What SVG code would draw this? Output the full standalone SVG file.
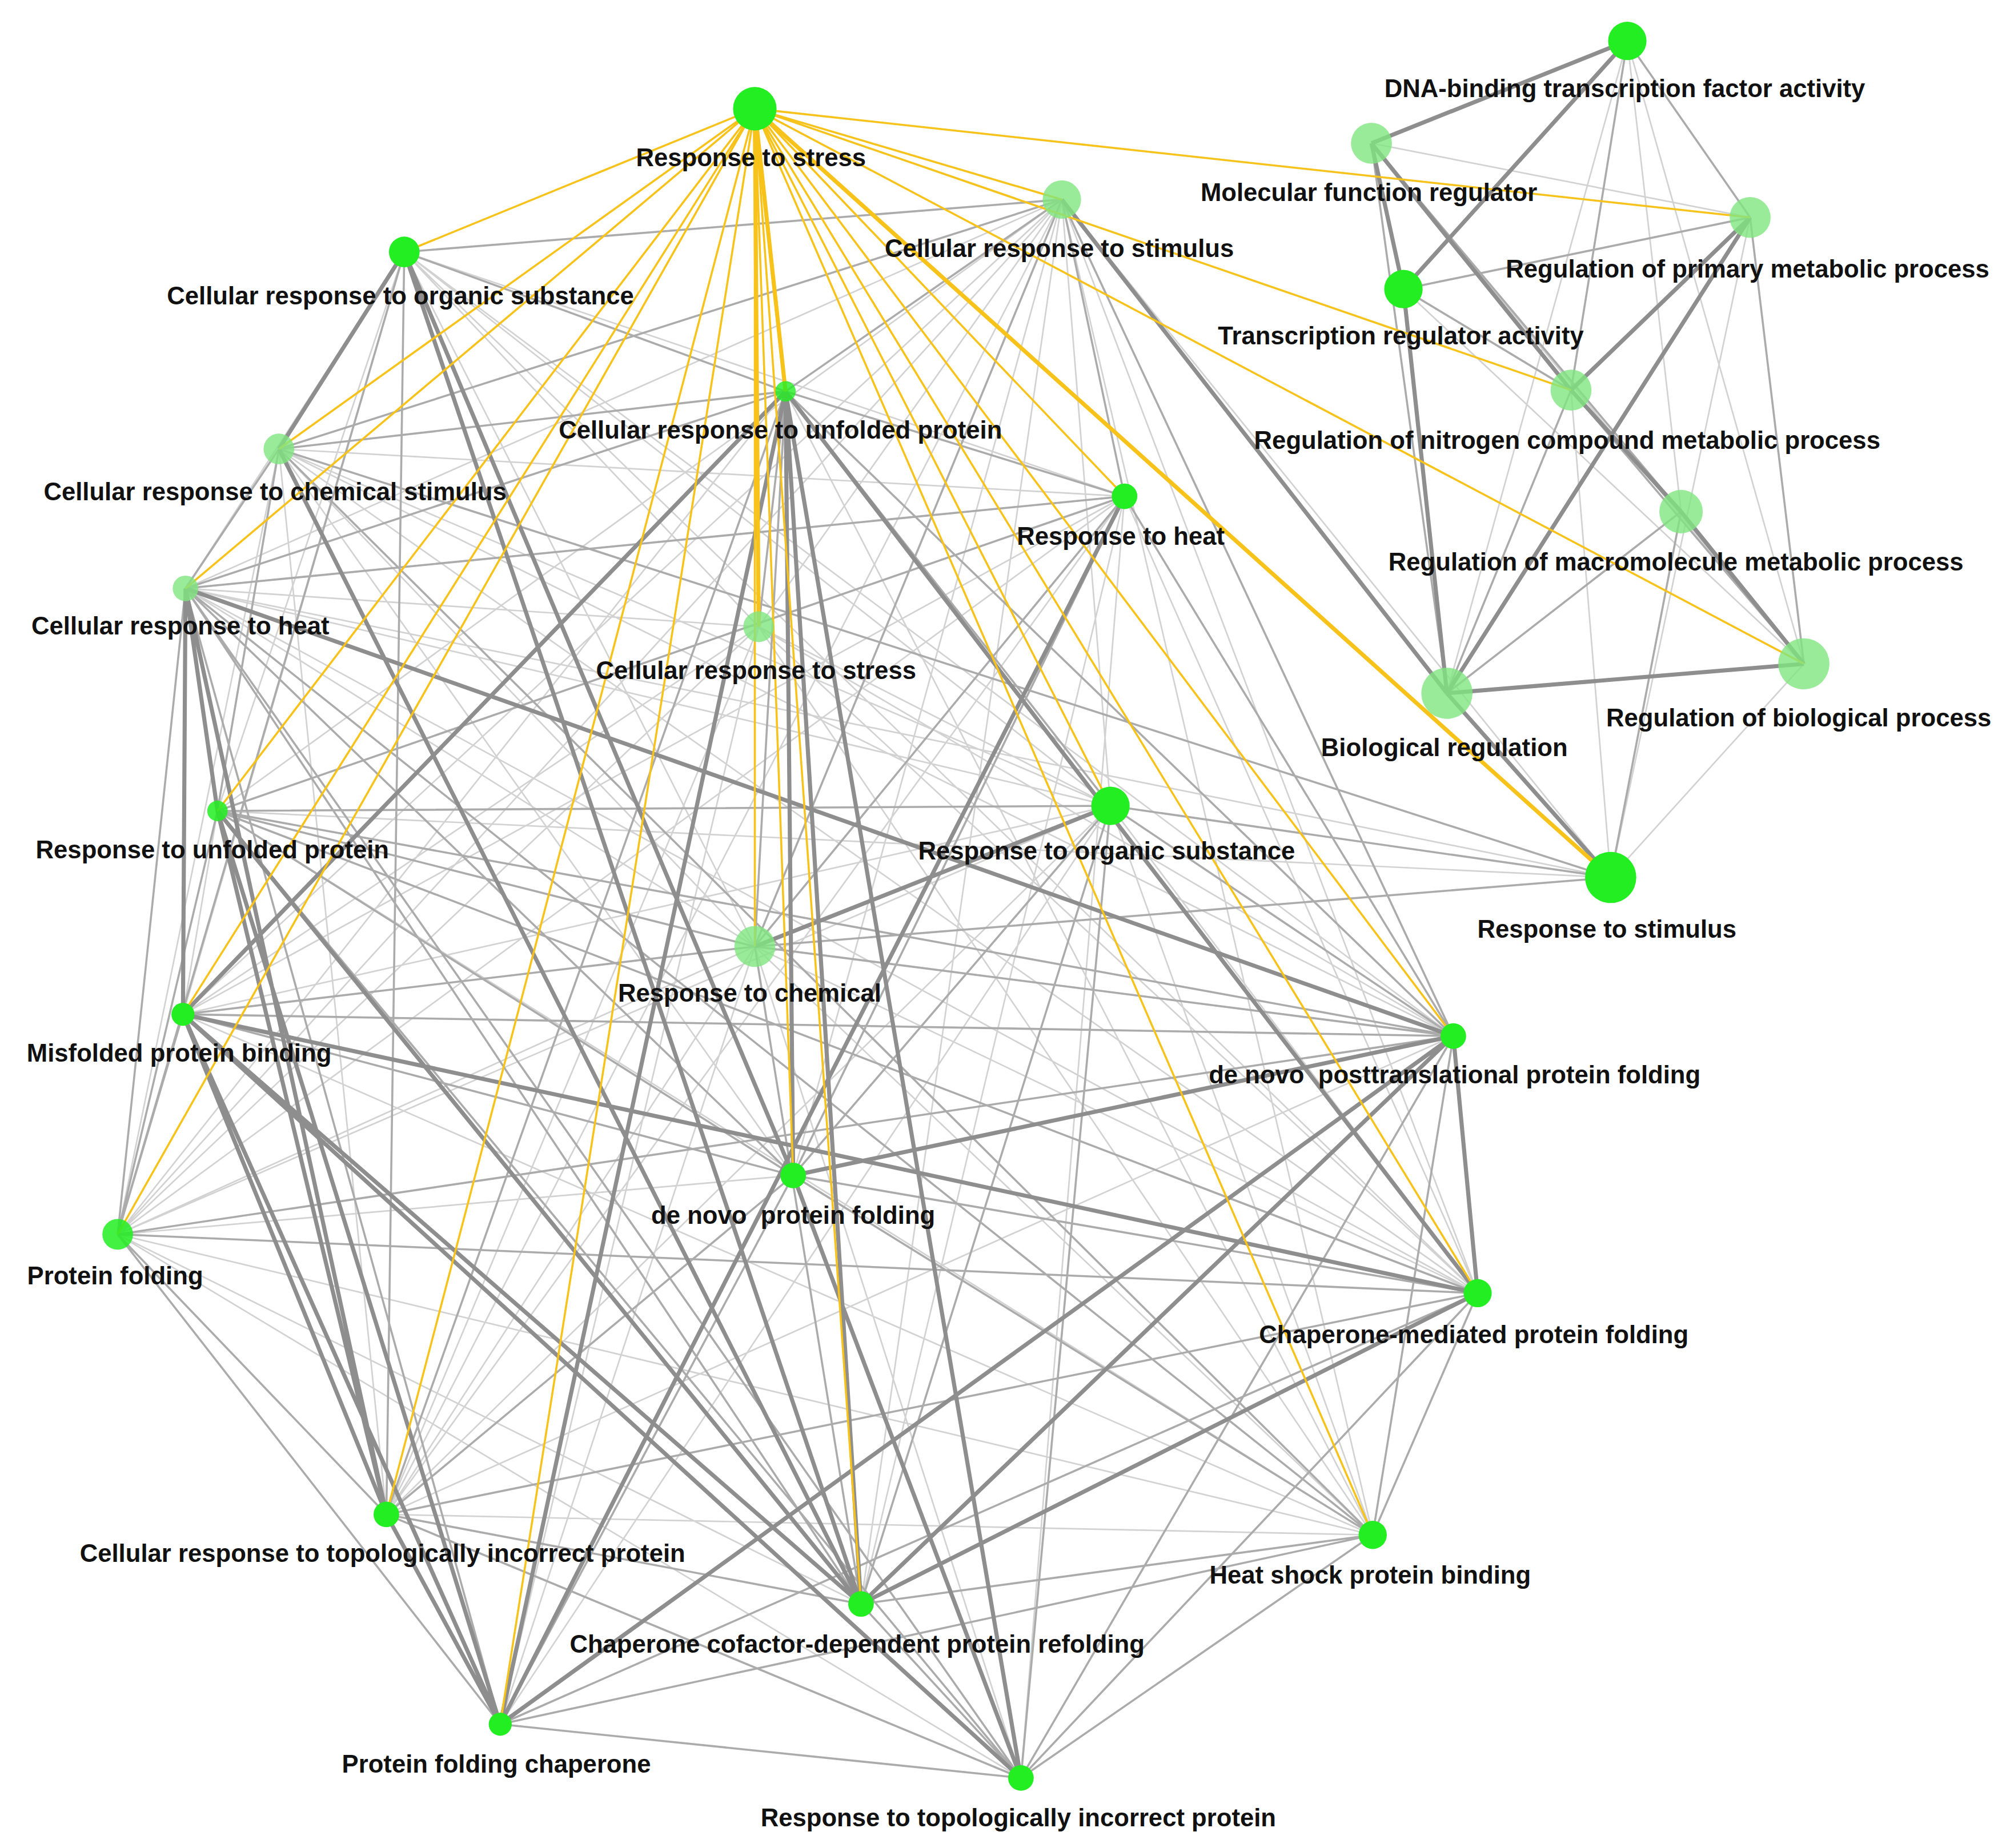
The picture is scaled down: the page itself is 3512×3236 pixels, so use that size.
<svg xmlns="http://www.w3.org/2000/svg" width="3512" height="3236" viewBox="0 0 3512 3236">
<style>
.t{stroke:#d2d2d2;stroke-width:1.2}
.m{stroke:#ababab;stroke-width:1.6}
.k{stroke:#8e8e8e;stroke-width:3.2}
.y{stroke:#f7c21a;stroke-width:1.6}
.Y{stroke:#f7c21a;stroke-width:3.2}
.n{fill:#22ee22}
.l{fill:#7fe67f;opacity:.8}
text{font-family:"Liberation Sans",Arial,sans-serif;font-size:19.5px;font-weight:bold;fill:#111;text-anchor:middle}
</style>
<rect width="3512" height="3236" fill="#fff"/>
<g transform="scale(2.2398)">
<g id="connectors" fill="none">
<!-- light background mesh -->
<path class="t" d="M830,156L143,793M830,156L92,965M830,156L302,1184M830,156L620,919M830,156L1155,1011M830,156L1073,1200M830,156L868,630M830,156L170,634M830,156L1259,686M830,156L1136,810M830,156L593,490M830,156L145,460M830,156L673,1254M316,197L1136,810M316,197L868,630M316,197L879,388M316,197L1155,1011M316,197L170,634M316,197L143,793M316,197L593,490M316,197L590,740M316,197L145,460M218,351L1136,810M218,351L868,630M218,351L620,919M218,351L1155,1011M218,351L302,1184M218,351L673,1254M218,351L879,388M218,351L590,740M218,351L143,793M218,351L92,965M145,460L868,630M145,460L879,388M145,460L1136,810M145,460L1155,1011M145,460L590,740M145,460L1259,686M145,460L593,490M593,490L1136,810M593,490L92,965M593,490L1155,1011M593,490L302,1184M593,490L143,793M593,490L1073,1200M593,490L868,630M593,490L391,1348M879,388L92,965M879,388L302,1184M879,388L143,793M879,388L170,634M879,388L391,1348M879,388L673,1254M879,388L798,1390M879,388L1155,1011M868,630L92,965M868,630L302,1184M868,630L391,1348M868,630L143,793M868,630L1073,1200M868,630L1155,1011M590,740L1073,1200M590,740L92,965M590,740L1136,810M590,740L302,1184M590,740L798,1390M590,740L391,1348M590,740L1155,1011M92,965L1073,1200M92,965L673,1254M92,965L798,1390M92,965L620,919M302,1184L1073,1200M302,1184L1136,810M170,634L1073,1200M170,634L1259,686M143,793L1073,1200M614,306L1073,1200M614,306L92,965M614,306L1155,1011M1259,686L1314,400M1259,686L1410,519M1259,686L1228,305M1131,542L1272,32M1131,542L1410,519M1097,226L1410,519M1072,112L1410,519M1272,32L1410,519M1272,32L1314,400M1368,170L1259,686M1072,112L1368,170"/>
<!-- medium -->
<path class="m" d="M830,156L316,197M830,156L614,306M830,156L218,351M830,156L879,388M830,156L590,740M830,156L1136,810M316,197L614,306M316,197L620,919M316,197L302,1184M316,197L92,965M218,351L614,306M218,351L1259,686M218,351L170,634M218,351L145,460M218,351L1073,1200M145,460L614,306M145,460L620,919M145,460L673,1254M145,460L798,1390M145,460L391,1348M145,460L92,965M145,460L1073,1200M614,306L879,388M614,306L868,630M614,306L590,740M614,306L1136,810M614,306L593,490M614,306L302,1184M879,388L620,919M879,388L1136,810M879,388L590,740M879,388L170,634M879,388L145,460M868,630L170,634M868,630L620,919M868,630L1136,810M868,630L798,1390M868,630L673,1254M868,630L1259,686M590,740L143,793M590,740L170,634M590,740L673,1254M590,740L1136,810M170,634L1136,810M170,634L620,919M170,634L1155,1011M170,634L92,965M170,634L798,1390M143,793L1136,810M143,793L620,919M143,793L1155,1011M143,793L798,1390M143,793L92,965M92,965L1136,810M92,965L1155,1011M92,965L302,1184M92,965L391,1348M620,919L1073,1200M620,919L1155,1011M620,919L302,1184M620,919L391,1348M1136,810L1073,1200M1136,810L798,1390M1136,810L673,1254M1155,1011L1073,1200M1155,1011L302,1184M1155,1011L798,1390M1155,1011L391,1348M1073,1200L673,1254M1073,1200L798,1390M1073,1200L391,1348M302,1184L798,1390M302,1184L673,1254M673,1254L798,1390M391,1348L798,1390M1272,32L1368,170M1272,32L1228,305M1072,112L1131,542M1072,112L1314,400M1097,226L1131,542M1097,226L1368,170M1368,170L1410,519M1368,170L1131,542M1228,305L1131,542M1228,305L1410,519M1314,400L1131,542M1314,400L1259,686M1131,542L1259,686M1097,226L1228,305M590,740L1259,686"/>
<!-- thick -->
<path class="k" d="M316,197L218,351M316,197L620,919M316,197L673,1254M614,306L391,1348M614,306L673,1254M614,306L798,1390M614,306L620,919M614,306L143,793M614,306L1155,1011M145,460L143,793M145,460L302,1184M145,460L170,634M170,634L302,1184M170,634L391,1348M170,634L673,1254M143,793L673,1254M143,793L302,1184M143,793L391,1348M302,1184L391,1348M868,630L590,740M1136,810L620,919M1136,810L673,1254M1136,810L391,1348M1136,810L1155,1011M1155,1011L673,1254M620,919L798,1390M218,351L673,1254M145,460L1136,810M879,388L391,1348M143,793L1155,1011M143,793L798,1390M1272,32L1072,112M1272,32L1097,226M1072,112L1097,226M1072,112L1228,305M1368,170L1228,305M1368,170L1131,542M1228,305L1314,400M1314,400L1410,519M1131,542L1410,519M1131,542L1259,686M830,156L1131,542M1097,226L1131,542"/>
<!-- yellow from Response to stress -->
<path class="y" d="M590,85L830,156M590,85L316,197M590,85L614,306M590,85L218,351M590,85L879,388M590,85L145,460M590,85L593,490M590,85L170,634M590,85L868,630M590,85L590,740M590,85L143,793M590,85L1136,810M590,85L620,919M590,85L92,965M590,85L1155,1011M590,85L1073,1200M590,85L302,1184M590,85L673,1254M590,85L391,1348M590,85L1368,170M590,85L1228,305M590,85L1410,519"/>
<path class="Y" d="M590,85L1259,686M590,85L614,306M590,85L593,490"/>
</g>
<g id="nodes">
<g id="n-stress"><circle class="n" cx="590" cy="85" r="17"/><text x="587" y="130">Response to stress</text></g>
<g id="n-dna"><circle class="n" cx="1272" cy="32" r="15"/><text x="1270" y="76">DNA-binding transcription factor activity</text></g>
<g id="n-mfr"><circle class="l" cx="1072" cy="112" r="16"/><text x="1070" y="157">Molecular function regulator</text></g>
<g id="n-cstim"><circle class="l" cx="830" cy="156" r="15"/><text x="828" y="201">Cellular response to stimulus</text></g>
<g id="n-rprim"><circle class="l" cx="1368" cy="170" r="16"/><text x="1366" y="217">Regulation of primary metabolic process</text></g>
<g id="n-corg"><circle class="n" cx="316" cy="197" r="12"/><text x="313" y="238">Cellular response to organic substance</text></g>
<g id="n-tra"><circle class="n" cx="1097" cy="226" r="15"/><text x="1095" y="269">Transcription regulator activity</text></g>
<g id="n-rnit"><circle class="l" cx="1228" cy="305" r="16"/><text x="1225" y="351">Regulation of nitrogen compound metabolic process</text></g>
<g id="n-cunf"><circle class="n" cx="614" cy="306" r="8" opacity=".8"/><text x="610" y="343">Cellular response to unfolded protein</text></g>
<g id="n-cchem"><circle class="l" cx="218" cy="351" r="12"/><text x="215" y="391">Cellular response to chemical stimulus</text></g>
<g id="n-heat"><circle class="n" cx="879" cy="388" r="10"/><text x="876" y="426">Response to heat</text></g>
<g id="n-rmac"><circle class="l" cx="1314" cy="400" r="17"/><text x="1310" y="446">Regulation of macromolecule metabolic process</text></g>
<g id="n-cheat"><circle class="l" cx="145" cy="460" r="10"/><text x="141" y="496">Cellular response to heat</text></g>
<g id="n-cstress"><circle class="l" cx="593" cy="490" r="12"/><text x="591" y="531">Cellular response to stress</text></g>
<g id="n-rbio"><circle class="l" cx="1410" cy="519" r="20"/><text x="1406" y="568">Regulation of biological process</text></g>
<g id="n-breg"><circle class="l" cx="1131" cy="542" r="20"/><text x="1129" y="591">Biological regulation</text></g>
<g id="n-runf"><circle class="n" cx="170" cy="634" r="8" opacity=".85"/><text x="166" y="671">Response to unfolded protein</text></g>
<g id="n-rorg"><circle class="n" cx="868" cy="630" r="15"/><text x="865" y="672">Response to organic substance</text></g>
<g id="n-rstim"><circle class="n" cx="1259" cy="686" r="20"/><text x="1256" y="733">Response to stimulus</text></g>
<g id="n-rchem"><circle class="l" cx="590" cy="740" r="16"/><text x="586" y="783">Response to chemical</text></g>
<g id="n-misf"><circle class="n" cx="143" cy="793" r="9"/><text x="140" y="830">Misfolded protein binding</text></g>
<g id="n-dnpost"><circle class="n" cx="1136" cy="810" r="10"/><text x="1137" y="847" xml:space="preserve">de novo  posttranslational protein folding</text></g>
<g id="n-dn"><circle class="n" cx="620" cy="919" r="10"/><text x="620" y="957" xml:space="preserve">de novo  protein folding</text></g>
<g id="n-pf"><circle class="n" cx="92" cy="965" r="12" opacity=".85"/><text x="90" y="1004">Protein folding</text></g>
<g id="n-chap"><circle class="n" cx="1155" cy="1011" r="11"/><text x="1152" y="1050">Chaperone-mediated protein folding</text></g>
<g id="n-hsp"><circle class="n" cx="1073" cy="1200" r="11"/><text x="1071" y="1238">Heat shock protein binding</text></g>
<g id="n-ctopo"><circle class="n" cx="302" cy="1184" r="10"/><text x="299" y="1221">Cellular response to topologically incorrect protein</text></g>
<g id="n-cof"><circle class="n" cx="673" cy="1254" r="10"/><text x="670" y="1292">Chaperone cofactor-dependent protein refolding</text></g>
<g id="n-pfc"><circle class="n" cx="391" cy="1348" r="9"/><text x="388" y="1386">Protein folding chaperone</text></g>
<g id="n-rtopo"><circle class="n" cx="798" cy="1390" r="10"/><text x="796" y="1428">Response to topologically incorrect protein</text></g>
</g>
</g>
</svg>
